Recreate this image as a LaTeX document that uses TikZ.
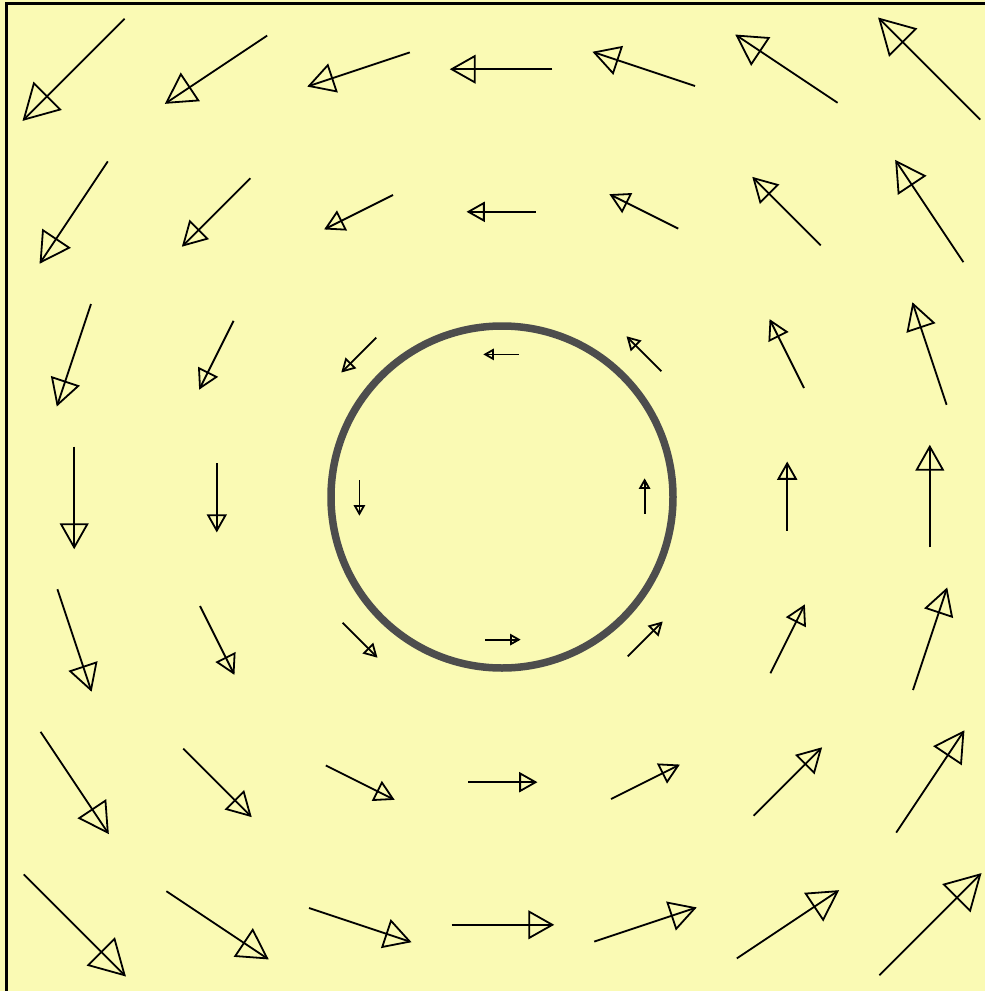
\documentclass[tikz,border=0pt]{standalone}
\begin{document}
\begin{tikzpicture}[x=1pt,y=-1pt,
  vec/.style={black,line width=1.8pt,line join=miter},
  ring/.style={draw=ringgray,line width=7.5pt},
  frame/.style={black,line width=3pt}]
\definecolor{bgyellow}{RGB}{250,250,180}
\definecolor{ringgray}{RGB}{77,77,77}
\useasboundingbox (0,0) rectangle (985,991);
\fill[bgyellow] (0,0) rectangle (985,991);
\draw[frame] (6.5,991) -- (6.5,3.5) -- (985,3.5);
\def\s{33.6}
\foreach \i in {-3,...,3} {
  \foreach \k in {-3,...,3} {
    \pgfmathtruncatemacro{\zz}{abs(\i)+abs(\k)}
    \ifnum\zz>0
      \pgfmathsetmacro{\px}{502+142.6*\i}
      \pgfmathsetmacro{\py}{497-142.6*\k}
      \pgfmathsetmacro{\tx}{\px-0.5*\k*\s}
      \pgfmathsetmacro{\ty}{\py-0.5*\i*\s}
      \pgfmathsetmacro{\bx}{\tx+0.23*\k*\s}
      \pgfmathsetmacro{\by}{\ty+0.23*\i*\s}
      \draw[vec] ({\px+0.5*\k*\s},{\py+0.5*\i*\s}) -- (\tx,\ty);
      \draw[vec] (\tx,\ty) -- ({\bx+0.13*\i*\s},{\by-0.13*\k*\s})
        -- ({\bx-0.13*\i*\s},{\by+0.13*\k*\s}) -- cycle;
    \fi
  }
}
\node[circle,ring,minimum size=342pt,inner sep=0pt] (c) at (502,497) {};
\end{tikzpicture}
\end{document}
